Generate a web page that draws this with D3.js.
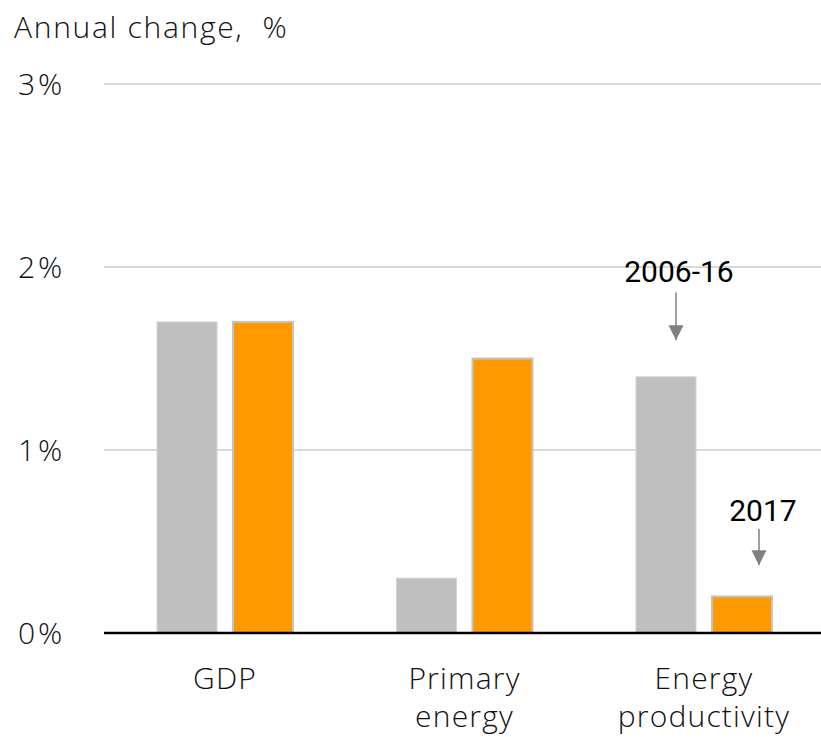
<!DOCTYPE html>
<html>
<head>
<meta charset="utf-8">
<title>Annual change</title>
<script src="https://cdnjs.cloudflare.com/ajax/libs/d3/7.8.5/d3.min.js"></script>
<style>
  body { margin: 0; background: #fff; }
  svg { display: block; font-family: Roboto, "Liberation Sans", sans-serif; }
  .lbl { font-family: "Open Sans", Roboto, sans-serif; font-weight: 300; font-size: 30px; letter-spacing: 1.2px; fill: #111; }
</style>
</head>
<body>
<svg id="svg" width="821" height="737"></svg>
<script>
const categories = [['GDP'], ['Primary', 'energy'], ['Energy', 'productivity']];
const series = ['2006-16', '2017'];
const values2006 = [1.7, 0.3, 1.4];
const values2017 = [1.7, 1.5, 0.2];
const yTicks = [0, 1, 2, 3];

const plotL = 104, plotR = 821, plotT = 84, plotB = 633;

const svg = d3.select('#svg');
const keys = categories.map(c => c.join(' '));

const x0 = d3.scaleBand().domain(keys).range([157, 772])
  .paddingInner(0.432).paddingOuter(0);
const x1 = d3.scaleBand().domain(series).range([0, x0.bandwidth()])
  .paddingInner(0.21);
const y = d3.scaleLinear().domain([0, 3]).range([plotB, plotT]);
const color = d3.scaleOrdinal().domain(series).range(['#bfbfbf', '#ff9900']);

// gridlines
svg.append('g')
  .selectAll('line')
  .data(yTicks.filter(d => d > 0))
  .enter().append('line')
  .attr('x1', plotL).attr('x2', plotR)
  .attr('y1', d => y(d)).attr('y2', d => y(d))
  .attr('stroke', '#d9d9d9').attr('stroke-width', 2);

// y labels
svg.append('g')
  .selectAll('text')
  .data(yTicks)
  .enter().append('text')
  .attr('class', 'lbl')
  .style('letter-spacing', '3px')
  .attr('x', 18)
  .attr('y', d => y(d) + 11)
  .text(d => d + '%');

// title
svg.append('text')
  .attr('class', 'lbl')
  .style('letter-spacing', '1.7px')
  .attr('x', 14).attr('y', 38)
  .text('Annual change,\u00a0 %');

// bars
const rows = keys.map((k, i) => ({ key: k, vals: [values2006[i], values2017[i]] }));
const groups = svg.append('g')
  .selectAll('g')
  .data(rows)
  .enter().append('g')
  .attr('transform', d => `translate(${x0(d.key)},0)`);

groups.selectAll('rect')
  .data(d => series.map((s, j) => ({ s, v: d.vals[j] })))
  .enter().append('rect')
  .attr('x', d => x1(d.s))
  .attr('y', d => y(d.v))
  .attr('width', x1.bandwidth())
  .attr('height', d => y(0) - y(d.v))
  .attr('fill', d => color(d.s))
  .attr('stroke', d => d.s === '2017' ? '#c4c4c4' : '#d4d4d4')
  .attr('stroke-width', d => d.s === '2017' ? 2 : 1);

// zero axis
svg.append('line')
  .attr('x1', plotL).attr('x2', plotR)
  .attr('y1', y(0)).attr('y2', y(0))
  .attr('stroke', '#000').attr('stroke-width', 2.5);

// category labels
const catLabels = svg.append('g')
  .selectAll('text')
  .data(categories)
  .enter().append('text')
  .attr('class', 'lbl')
  .attr('text-anchor', 'middle')
  .attr('transform', (d, i) => `translate(${x0(keys[i]) + x0.bandwidth() / 2},689)`);
catLabels.selectAll('tspan')
  .data(d => d)
  .enter().append('tspan')
  .attr('x', 0)
  .attr('dy', (d, i) => i === 0 ? 0 : 38)
  .text(d => d);

// annotations
svg.append('defs').append('marker')
  .attr('id', 'arr').attr('viewBox', '0 0 10 10')
  .attr('refX', 10).attr('refY', 5)
  .attr('markerWidth', 15).attr('markerHeight', 15)
  .attr('markerUnits', 'userSpaceOnUse')
  .attr('orient', 'auto')
  .append('path').attr('d', 'M0,0L10,5L0,10Z').attr('fill', '#808080');

const notes = [
  { s: '2006-16', cat: keys[2], dx: 10, text: 1.92, a0: 1.86, a1: 1.60 },
  { s: '2017', cat: keys[2], dx: 17, text: 0.61, a0: 0.57, a1: 0.37 }
];
notes.forEach(n => {
  const cx = x0(n.cat) + x1(n.s) + x1.bandwidth() / 2 + n.dx;
  svg.append('line')
    .attr('x1', cx).attr('x2', cx)
    .attr('y1', y(n.a0)).attr('y2', y(n.a1))
    .attr('stroke', '#808080').attr('stroke-width', 1.5)
    .attr('marker-end', 'url(#arr)');
  svg.append('text')
    .attr('x', cx + (n.s === '2017' ? 4 : 3)).attr('y', y(n.text))
    .attr('text-anchor', 'middle')
    .attr('font-size', 30).attr('fill', '#000')
    .text(n.s);
});
</script>
</body>
</html>
